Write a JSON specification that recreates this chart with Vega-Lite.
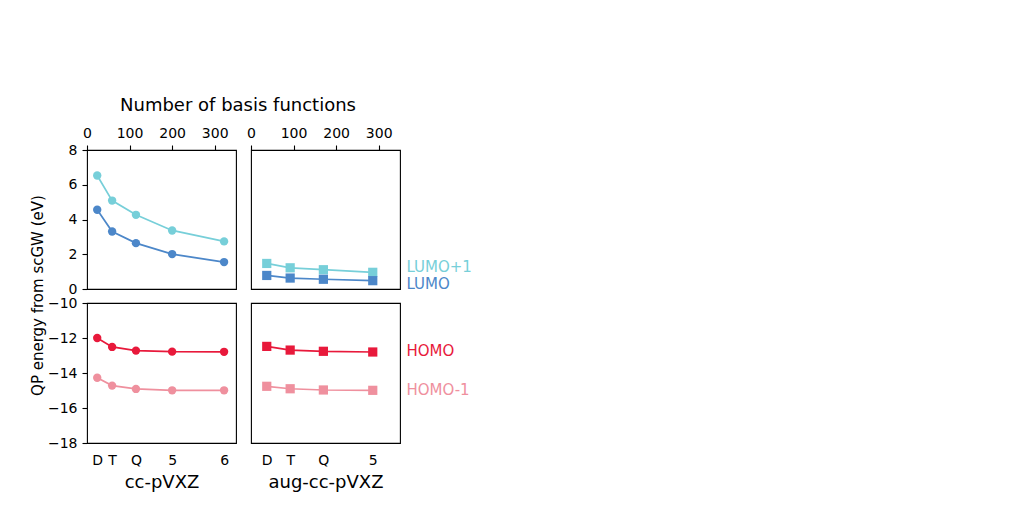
{
  "$schema": "https://vega.github.io/schema/vega-lite/v6.json",
  "background": "white",
  "padding": {"left": 29, "top": 95, "right": 5, "bottom": 5},
  "config": {
    "font": "DejaVu Sans",
    "view": {"stroke": "#000", "strokeWidth": 1.1},
    "axis": {
      "grid": false, "domain": false, "tickColor": "#000", "tickSize": 5, "tickWidth": 1.1,
      "labelColor": "#000", "labelFontSize": 14, "labelFont": "DejaVu Sans", "labelOverlap": false, "labelFlush": false,
      "titleFont": "DejaVu Sans", "titleFontWeight": "normal", "titleColor": "#000", "labelPadding": 5
    }
  },
  "datasets": {
    "pts": [
      {"set": "cc", "orbital": "LUMO+1", "basis": "D", "nbf": 24, "energy": 6.53},
      {"set": "cc", "orbital": "LUMO+1", "basis": "T", "nbf": 59, "energy": 5.09},
      {"set": "cc", "orbital": "LUMO+1", "basis": "Q", "nbf": 115, "energy": 4.27},
      {"set": "cc", "orbital": "LUMO+1", "basis": "5", "nbf": 200, "energy": 3.37},
      {"set": "cc", "orbital": "LUMO+1", "basis": "6", "nbf": 322, "energy": 2.74},
      {"set": "cc", "orbital": "LUMO", "basis": "D", "nbf": 24, "energy": 4.56},
      {"set": "cc", "orbital": "LUMO", "basis": "T", "nbf": 59, "energy": 3.31},
      {"set": "cc", "orbital": "LUMO", "basis": "Q", "nbf": 115, "energy": 2.64},
      {"set": "cc", "orbital": "LUMO", "basis": "5", "nbf": 200, "energy": 2.01},
      {"set": "cc", "orbital": "LUMO", "basis": "6", "nbf": 322, "energy": 1.55},
      {"set": "cc", "orbital": "HOMO", "basis": "D", "nbf": 24, "energy": -12.0},
      {"set": "cc", "orbital": "HOMO", "basis": "T", "nbf": 59, "energy": -12.51},
      {"set": "cc", "orbital": "HOMO", "basis": "Q", "nbf": 115, "energy": -12.72},
      {"set": "cc", "orbital": "HOMO", "basis": "5", "nbf": 200, "energy": -12.78},
      {"set": "cc", "orbital": "HOMO", "basis": "6", "nbf": 322, "energy": -12.79},
      {"set": "cc", "orbital": "HOMO-1", "basis": "D", "nbf": 24, "energy": -14.27},
      {"set": "cc", "orbital": "HOMO-1", "basis": "T", "nbf": 59, "energy": -14.72},
      {"set": "cc", "orbital": "HOMO-1", "basis": "Q", "nbf": 115, "energy": -14.91},
      {"set": "cc", "orbital": "HOMO-1", "basis": "5", "nbf": 200, "energy": -14.99},
      {"set": "cc", "orbital": "HOMO-1", "basis": "6", "nbf": 322, "energy": -14.99},
      {"set": "aug", "orbital": "LUMO+1", "basis": "D", "nbf": 37, "energy": 1.47},
      {"set": "aug", "orbital": "LUMO+1", "basis": "T", "nbf": 92, "energy": 1.22},
      {"set": "aug", "orbital": "LUMO+1", "basis": "Q", "nbf": 170, "energy": 1.11},
      {"set": "aug", "orbital": "LUMO+1", "basis": "5", "nbf": 286, "energy": 0.96},
      {"set": "aug", "orbital": "LUMO", "basis": "D", "nbf": 37, "energy": 0.78},
      {"set": "aug", "orbital": "LUMO", "basis": "T", "nbf": 92, "energy": 0.63},
      {"set": "aug", "orbital": "LUMO", "basis": "Q", "nbf": 170, "energy": 0.56},
      {"set": "aug", "orbital": "LUMO", "basis": "5", "nbf": 286, "energy": 0.48},
      {"set": "aug", "orbital": "HOMO", "basis": "D", "nbf": 37, "energy": -12.48},
      {"set": "aug", "orbital": "HOMO", "basis": "T", "nbf": 92, "energy": -12.69},
      {"set": "aug", "orbital": "HOMO", "basis": "Q", "nbf": 170, "energy": -12.76},
      {"set": "aug", "orbital": "HOMO", "basis": "5", "nbf": 286, "energy": -12.8},
      {"set": "aug", "orbital": "HOMO-1", "basis": "D", "nbf": 37, "energy": -14.76},
      {"set": "aug", "orbital": "HOMO-1", "basis": "T", "nbf": 92, "energy": -14.9},
      {"set": "aug", "orbital": "HOMO-1", "basis": "Q", "nbf": 170, "energy": -14.97},
      {"set": "aug", "orbital": "HOMO-1", "basis": "5", "nbf": 286, "energy": -14.99}
    ],
    "labels": [
      {"orbital": "LUMO+1", "anchor": 0.95},
      {"orbital": "LUMO", "anchor": 0.0},
      {"orbital": "HOMO", "anchor": -13.05},
      {"orbital": "HOMO-1", "anchor": -15.24}
    ]
  },
  "columns": 2,
  "spacing": {"row": 14, "column": 15},
  "bounds": "flush",
  "concat": [
    {
      "width": 149, "height": 139,
      "data": {"name": "pts"},
      "transform": [{"filter": "datum.set === 'cc' && (datum.orbital === 'LUMO' || datum.orbital === 'LUMO+1')"}],
      "encoding": {
        "x": {"field": "nbf", "type": "quantitative", "scale": {"domain": [0, 350], "nice": false, "zero": false},
          "axis": {"orient": "top", "values": [0, 100, 200, 300], "labelOverlap": false, "title": "Number of basis functions", "titleFontSize": 18,
            "titleX": 150.5, "titleY": -40, "titleAlign": "center", "titleBaseline": "alphabetic", "titleAngle": 0}},
        "y": {"field": "energy", "type": "quantitative", "scale": {"domain": [0, 8], "nice": false},
          "axis": {"values": [0, 2, 4, 6, 8], "labelOverlap": false, "title": "QP energy from scGW (eV)", "titleFontSize": 15,
            "titleX": -45, "titleY": 145, "titleAlign": "center", "titleBaseline": "alphabetic", "titleAngle": -90}},
        "color": {"field": "orbital", "type": "nominal", "legend": null,
          "scale": {"domain": ["LUMO+1", "LUMO", "HOMO", "HOMO-1"], "range": ["#77cfd9", "#4c87c9", "#e8193b", "#ef909e"]}}
      },
      "layer": [
        {"mark": {"type": "line", "strokeWidth": 1.7}},
        {"mark": {"type": "point", "shape": "circle", "filled": true, "size": 70, "opacity": 1}}
      ]
    },
    {
      "width": 149, "height": 139,
      "encoding": {
        "x": {"type": "quantitative", "scale": {"domain": [0, 350], "nice": false, "zero": false},
          "axis": {"orient": "top", "values": [0, 100, 200, 300], "labelOverlap": false, "title": null}},
        "y": {"type": "quantitative", "scale": {"domain": [0, 8], "nice": false}, "axis": null},
        "color": {"field": "orbital", "type": "nominal", "legend": null,
          "scale": {"domain": ["LUMO+1", "LUMO", "HOMO", "HOMO-1"], "range": ["#77cfd9", "#4c87c9", "#e8193b", "#ef909e"]}}
      },
      "layer": [
        {
          "data": {"name": "pts"},
          "transform": [{"filter": "datum.set === 'aug' && (datum.orbital === 'LUMO' || datum.orbital === 'LUMO+1')"}],
          "mark": {"type": "line", "strokeWidth": 1.7},
          "encoding": {"x": {"field": "nbf"}, "y": {"field": "energy"}}
        },
        {
          "data": {"name": "pts"},
          "transform": [{"filter": "datum.set === 'aug' && (datum.orbital === 'LUMO' || datum.orbital === 'LUMO+1')"}],
          "mark": {"type": "square", "filled": true, "size": 85, "opacity": 1},
          "encoding": {"x": {"field": "nbf"}, "y": {"field": "energy"}}
        },
        {
          "data": {"name": "labels"},
          "transform": [{"filter": "datum.orbital === 'LUMO' || datum.orbital === 'LUMO+1'"}],
          "mark": {"type": "text", "align": "left", "baseline": "alphabetic", "fontSize": 15, "font": "DejaVu Sans"},
          "encoding": {
            "x": {"datum": 365},
            "y": {"field": "anchor"},
            "text": {"field": "orbital"}
          }
        }
      ]
    },
    {
      "width": 149, "height": 140,
      "data": {"name": "pts"},
      "transform": [{"filter": "datum.set === 'cc' && (datum.orbital === 'HOMO' || datum.orbital === 'HOMO-1')"}],
      "encoding": {
        "x": {"field": "nbf", "type": "quantitative", "scale": {"domain": [0, 350], "nice": false, "zero": false},
          "axis": {"orient": "bottom", "values": [24, 59, 115, 200, 322], "labelOverlap": false, "ticks": false, "labelPadding": 10,
            "labelExpr": "datum.value == 24 ? 'D' : datum.value == 59 ? 'T' : datum.value == 115 ? 'Q' : datum.value == 200 ? '5' : '6'",
            "title": "cc-pVXZ", "titleFontSize": 18, "titleX": 74.5, "titleY": 44, "titleAlign": "center", "titleBaseline": "alphabetic"}},
        "y": {"field": "energy", "type": "quantitative", "scale": {"domain": [-18, -10], "nice": false},
          "axis": {"values": [-18, -16, -14, -12, -10], "labelOverlap": false, "title": null}},
        "color": {"field": "orbital", "type": "nominal", "legend": null,
          "scale": {"domain": ["LUMO+1", "LUMO", "HOMO", "HOMO-1"], "range": ["#77cfd9", "#4c87c9", "#e8193b", "#ef909e"]}}
      },
      "layer": [
        {"mark": {"type": "line", "strokeWidth": 1.7}},
        {"mark": {"type": "point", "shape": "circle", "filled": true, "size": 70, "opacity": 1}}
      ]
    },
    {
      "width": 149, "height": 140,
      "encoding": {
        "x": {"type": "quantitative", "scale": {"domain": [0, 350], "nice": false, "zero": false},
          "axis": {"orient": "bottom", "values": [37, 92, 170, 286], "labelOverlap": false, "ticks": false, "labelPadding": 10,
            "labelExpr": "datum.value == 37 ? 'D' : datum.value == 92 ? 'T' : datum.value == 170 ? 'Q' : '5'",
            "title": "aug-cc-pVXZ", "titleFontSize": 18, "titleX": 74.5, "titleY": 44, "titleAlign": "center", "titleBaseline": "alphabetic"}},
        "y": {"type": "quantitative", "scale": {"domain": [-18, -10], "nice": false}, "axis": null},
        "color": {"field": "orbital", "type": "nominal", "legend": null,
          "scale": {"domain": ["LUMO+1", "LUMO", "HOMO", "HOMO-1"], "range": ["#77cfd9", "#4c87c9", "#e8193b", "#ef909e"]}}
      },
      "layer": [
        {
          "data": {"name": "pts"},
          "transform": [{"filter": "datum.set === 'aug' && (datum.orbital === 'HOMO' || datum.orbital === 'HOMO-1')"}],
          "mark": {"type": "line", "strokeWidth": 1.7},
          "encoding": {"x": {"field": "nbf"}, "y": {"field": "energy"}}
        },
        {
          "data": {"name": "pts"},
          "transform": [{"filter": "datum.set === 'aug' && (datum.orbital === 'HOMO' || datum.orbital === 'HOMO-1')"}],
          "mark": {"type": "square", "filled": true, "size": 85, "opacity": 1},
          "encoding": {"x": {"field": "nbf"}, "y": {"field": "energy"}}
        },
        {
          "data": {"name": "labels"},
          "transform": [{"filter": "datum.orbital === 'HOMO' || datum.orbital === 'HOMO-1'"}],
          "mark": {"type": "text", "align": "left", "baseline": "alphabetic", "fontSize": 15, "font": "DejaVu Sans"},
          "encoding": {
            "x": {"datum": 365},
            "y": {"field": "anchor"},
            "text": {"field": "orbital"}
          }
        }
      ]
    }
  ]
}
